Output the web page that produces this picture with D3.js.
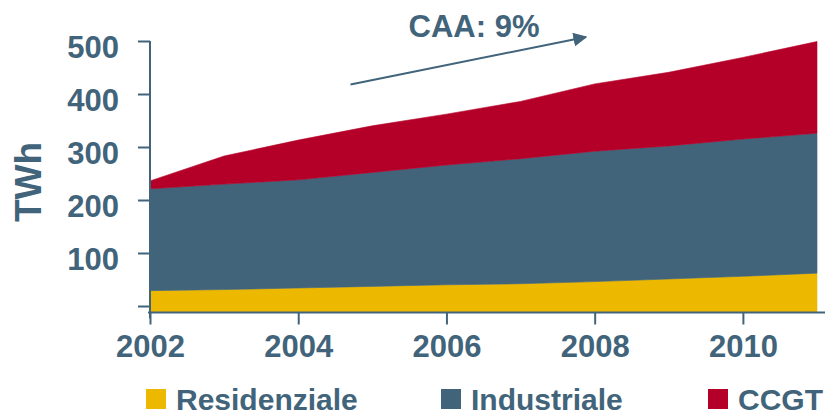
<!DOCTYPE html>
<html>
<head>
<meta charset="utf-8">
<script src="https://cdn.jsdelivr.net/npm/d3@7"></script>
<style>
  html, body { margin: 0; padding: 0; background: #fff; }
  svg { display: block; }
  text { font-family: "Liberation Sans", Arial, sans-serif; font-weight: bold; fill: #41647b; }
</style>
</head>
<body>
<svg id="chart" width="825" height="417"></svg>
<script>
const years = [2002, 2003, 2004, 2005, 2006, 2007, 2008, 2009, 2010, 2011];
const residenziale = [29, 31, 34, 37, 40, 42, 46, 51, 56, 62];
const industriale = [192, 199, 204, 215, 226, 236, 246, 251, 259, 264];
const ccgt = [15, 53, 75, 88, 96, 108, 127, 139, 154, 173];
const seriesNames = ["Residenziale", "Industriale", "CCGT"];
const seriesColors = ["#edb900", "#41647b", "#b40028"];
const yTicks = [0, 100, 200, 300, 400, 500];
const xTicks = [2002, 2004, 2006, 2008, 2010];
const yTitle = "TWh";
const annotation = "CAA: 9%";

const svg = d3.select("#chart");
const ink = "#41647b";

const x = d3.scaleLinear().domain([2002, 2011]).range([150, 817]);
const y = d3.scaleLinear().domain([0, 500]).range([306, 41]);
const plotBottom = 312.5;

const table = years.map((yr, i) => ({
  year: yr,
  Residenziale: residenziale[i],
  Industriale: industriale[i],
  CCGT: ccgt[i]
}));
const stacked = d3.stack().keys(seriesNames)(table);

const area = d3.area()
  .x(d => x(d.data.year))
  .y0(d => d[0] === 0 ? plotBottom : y(d[0]))
  .y1(d => y(d[1]));

svg.append("g").selectAll("path")
  .data(stacked)
  .join("path")
  .attr("d", area)
  .attr("fill", (d, i) => seriesColors[i])
  .attr("stroke", (d, i) => seriesColors[i])
  .attr("stroke-width", 0.6);

// Y axis
const yAxis = d3.axisLeft(y).tickValues(yTicks).tickSize(12).tickPadding(19)
  .tickFormat(d => d === 0 ? "" : d);
const gy = svg.append("g").attr("transform", "translate(150,0)").call(yAxis);
gy.select(".domain").remove();
gy.selectAll(".tick line").attr("stroke", ink).attr("stroke-width", 2);
gy.selectAll(".tick text").attr("y", 7).style("font-size", "31px")
  .attr("font-family", null).attr("fill", ink);

// X axis
const xAxis = d3.axisBottom(x).tickValues(xTicks).tickSize(12).tickPadding(10)
  .tickFormat(d3.format("d"));
const gx = svg.append("g").attr("transform", `translate(0,${plotBottom})`).call(xAxis);
gx.select(".domain").remove();
gx.selectAll(".tick line").attr("stroke", ink).attr("stroke-width", 2);
gx.selectAll(".tick text").style("font-size", "31px").attr("font-family", null).attr("fill", ink);

// axis lines
svg.append("line").attr("x1", 148).attr("x2", 825).attr("y1", plotBottom).attr("y2", plotBottom)
  .attr("stroke", ink).attr("stroke-width", 2);
svg.append("line").attr("x1", 150).attr("x2", 150).attr("y1", y(500)).attr("y2", plotBottom + 6)
  .attr("stroke", ink).attr("stroke-width", 2);

// Y title
svg.append("text")
  .attr("transform", "translate(41,182) rotate(-90)")
  .attr("text-anchor", "middle")
  .style("font-size", "37px")
  .text(yTitle);

// Annotation arrow
const defs = svg.append("defs");
defs.append("marker")
  .attr("id", "arrowhead")
  .attr("viewBox", "0 0 10 10")
  .attr("refX", 9).attr("refY", 5)
  .attr("markerWidth", 7).attr("markerHeight", 7)
  .attr("markerUnits", "strokeWidth")
  .attr("orient", "auto")
  .append("path").attr("d", "M0,0 L10,5 L0,10 Z").attr("fill", ink);
svg.append("line")
  .attr("x1", 350.5).attr("y1", 84.5).attr("x2", 586).attr("y2", 37)
  .attr("stroke", ink).attr("stroke-width", 2)
  .attr("marker-end", "url(#arrowhead)");
svg.append("text")
  .attr("x", 474).attr("y", 37)
  .attr("text-anchor", "middle")
  .style("font-size", "31px")
  .text(annotation);

// Legend
const legendX = [146, 441, 708];
const lg = svg.append("g").selectAll("g")
  .data(seriesNames)
  .join("g")
  .attr("transform", (d, i) => `translate(${legendX[i]},0)`);
lg.append("rect").attr("x", 0).attr("y", 389).attr("width", 20).attr("height", 20)
  .attr("fill", (d, i) => seriesColors[i]);
lg.append("text").attr("x", 30).attr("y", 410).style("font-size", "30px").text(d => d);
</script>
</body>
</html>
